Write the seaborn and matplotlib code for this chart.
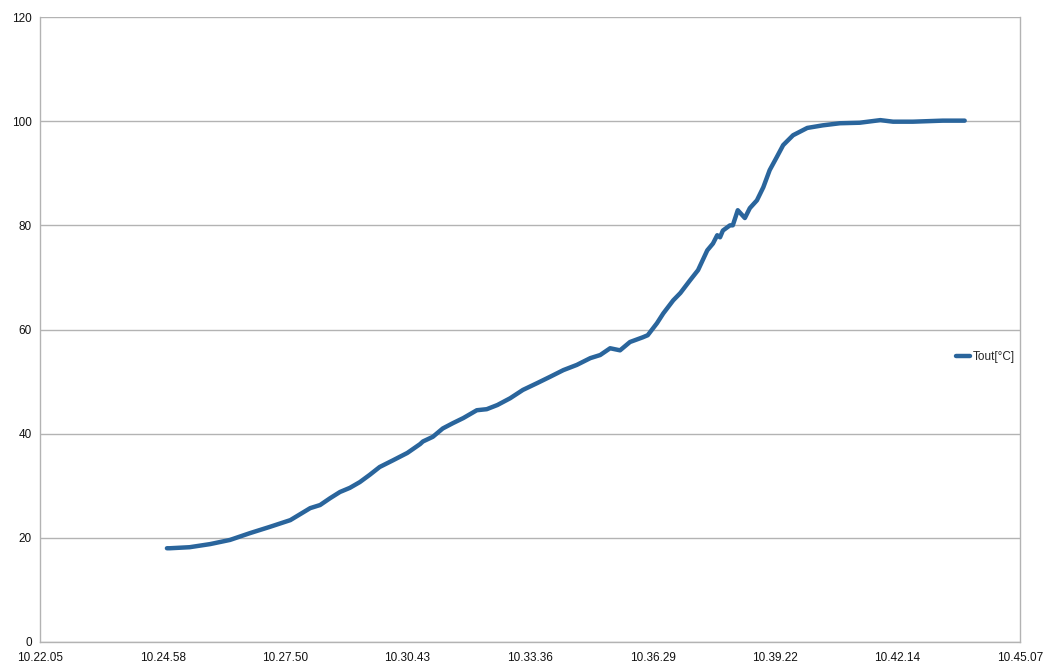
import matplotlib
matplotlib.use("Agg")
import matplotlib.pyplot as plt
import seaborn as sns
import pandas as pd

times = ["10.25.04", "10.25.08", "10.25.36", "10.26.05", "10.26.33", "10.27.01", "10.27.29",
         "10.27.58", "10.28.26", "10.28.40", "10.28.54", "10.29.08", "10.29.22", "10.29.36",
         "10.29.50", "10.30.04", "10.30.23", "10.30.43", "10.31.01", "10.31.05", "10.31.19",
         "10.31.33", "10.31.47", "10.32.02", "10.32.21", "10.32.35", "10.32.50", "10.33.08",
         "10.33.26", "10.33.46", "10.34.04", "10.34.23", "10.34.42", "10.35.01", "10.35.15",
         "10.35.29", "10.35.43", "10.35.57", "10.36.15", "10.36.22", "10.36.35", "10.36.44",
         "10.36.58", "10.37.08", "10.37.22", "10.37.33", "10.37.46", "10.37.54", "10.38.00",
         "10.38.04", "10.38.08", "10.38.18", "10.38.22", "10.38.29", "10.38.39", "10.38.46",
         "10.38.56", "10.39.05", "10.39.14", "10.39.24", "10.39.33", "10.39.47", "10.40.07",
         "10.40.29", "10.40.53", "10.41.21", "10.41.50", "10.42.08", "10.42.36", "10.43.18",
         "10.43.49"]
tout = [18.0, 18.0, 18.2, 18.8, 19.6, 20.9, 22.1,
        23.4, 25.7, 26.3, 27.6, 28.8, 29.6, 30.7,
        32.1, 33.6, 34.9, 36.3, 38.0, 38.5, 39.4,
        41.0, 42.0, 43.0, 44.5, 44.7, 45.5, 46.8,
        48.4, 49.7, 50.9, 52.2, 53.2, 54.5, 55.1,
        56.4, 56.0, 57.6, 58.5, 58.9, 61.2, 63.1,
        65.6, 67.0, 69.5, 71.4, 75.2, 76.5, 78.1,
        77.7, 79.0, 80.0, 80.0, 82.9, 81.4, 83.3,
        84.8, 87.3, 90.6, 93.1, 95.4, 97.3, 98.7,
        99.2, 99.6, 99.7, 100.2, 99.9, 99.9, 100.1,
        100.1]
tick_labels = ["10.22.05", "10.24.58", "10.27.50", "10.30.43", "10.33.36",
               "10.36.29", "10.39.22", "10.42.14", "10.45.07"]
y_ticks = [0, 20, 40, 60, 80, 100, 120]
series_name = "Tout[°C]"


def to_sec(s):
    h, m, sec = (int(p) for p in s.split("."))
    return h * 3600 + m * 60 + sec


df = pd.DataFrame({"t": [to_sec(s) for s in times], "v": tout, "s": series_name})

sns.set_theme(style="white")
plt.rcParams["font.family"] = ["Liberation Sans", "DejaVu Sans"]

fig = plt.figure(figsize=(10.45, 6.7), dpi=100)
ax = fig.add_axes([40 / 1045, 28 / 670, 980 / 1045, 625 / 670])

line_color = "#2a659c"
sns.lineplot(data=df, x="t", y="v", hue="s", palette=[line_color], linewidth=3.2, ax=ax, legend=True)

tick_pos = [to_sec(s) for s in tick_labels]
ax.set_xlim(tick_pos[0], tick_pos[-1])
ax.set_ylim(0, 120)
ax.set_xticks(tick_pos)
ax.set_xticklabels(tick_labels)
ax.set_yticks(y_ticks)
ax.set_yticklabels([str(v) for v in y_ticks])
ax.set_xlabel("")
ax.set_ylabel("")

grid_c = "#b3b3b3"
ax.yaxis.grid(True, color=grid_c, linewidth=1)
ax.xaxis.grid(False)
for side in ["left", "bottom", "right"]:
    ax.spines[side].set_visible(True)
    ax.spines[side].set_color(grid_c)
    ax.spines[side].set_linewidth(1)
ax.spines["top"].set_visible(False)
ax.tick_params(axis="both", which="both", direction="out", length=4, width=1,
               color=grid_c, labelsize=8.5, labelcolor="#111111", pad=2)
ax.tick_params(axis="x", pad=3)

handles, labels = ax.get_legend_handles_labels()
ax.legend(handles, labels, loc="center left", bbox_to_anchor=(950 / 1045, 1 - 357 / 670),
          bbox_transform=fig.transFigure, frameon=False, fontsize=8.5,
          handlelength=1.2, handletextpad=0.2, borderpad=0)

fig.savefig("out.png", dpi=100)
